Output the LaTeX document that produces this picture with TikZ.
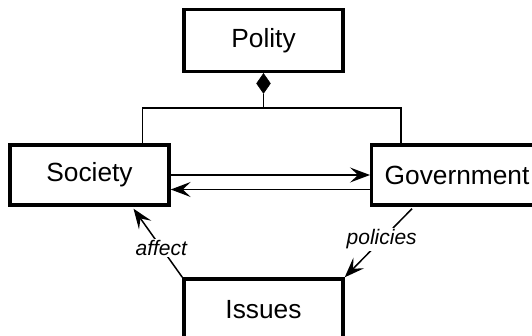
\documentclass[tikz,border=0pt]{standalone}
\usepackage{fontspec}
\setmainfont{Liberation Sans}
\usetikzlibrary{arrows.meta,shapes.geometric}
\begin{document}
\begin{tikzpicture}[x=1pt,y=-1pt,
  box/.style={draw, line width=3.4pt, inner sep=0pt, font=\fontsize{26.3}{31}\selectfont},
  conn/.style={line width=1.5pt},
  arr/.style={conn, -{Stealth[length=20pt,width=15pt,inset=8pt]}},
  lab/.style={fill=white, inner sep=1.5pt, font=\fontsize{21}{25}\selectfont\itshape}]
\useasboundingbox (0,0) rectangle (532,336);
\clip (0,0) rectangle (532,336);
\fill[white] (0,0) rectangle (532,336);

\node[box, minimum width=159pt, minimum height=62pt] (pol) at (263.5,40.5) {Polity};
\node[box, minimum width=159pt, minimum height=60pt] (soc) at (89.5,175) {Society};
\node[box, minimum height=60pt, anchor=west, inner xsep=13pt, text width=160pt, align=left] (gov) at (370,175) {Government};
\node[box, minimum width=159pt, minimum height=62pt] (iss) at (263.5,310) {Issues};

\node[diamond, fill=black, draw=black, line width=0.5pt, inner sep=0pt, minimum width=14pt, minimum height=20pt, anchor=north] (dia) at (pol.south) {};

\coordinate (j) at (263.5,108);
\coordinate (sl) at (142.5,145);
\coordinate (gl) at (401,145);
\draw[conn] (dia.south) -- (j);
\draw[conn] (sl) |- (j) -| (gl);

\draw[arr] ([yshift=0pt]soc.east) -- ([yshift=0pt]gov.west);
\draw[arr] ([yshift=-14.5pt]gov.west) -- ([yshift=-14.5pt]soc.east);

\coordinate (stip) at ([xshift=44pt,yshift=-2pt]soc.south);
\coordinate (gst) at ([xshift=42pt,yshift=-2pt]gov.south west);
\draw[arr] (iss.north west) -- node[lab, pos=0.43] {affect} (stip);
\draw[arr] (gst) -- node[lab, pos=0.45] {policies} (iss.north east);
\end{tikzpicture}
\end{document}
